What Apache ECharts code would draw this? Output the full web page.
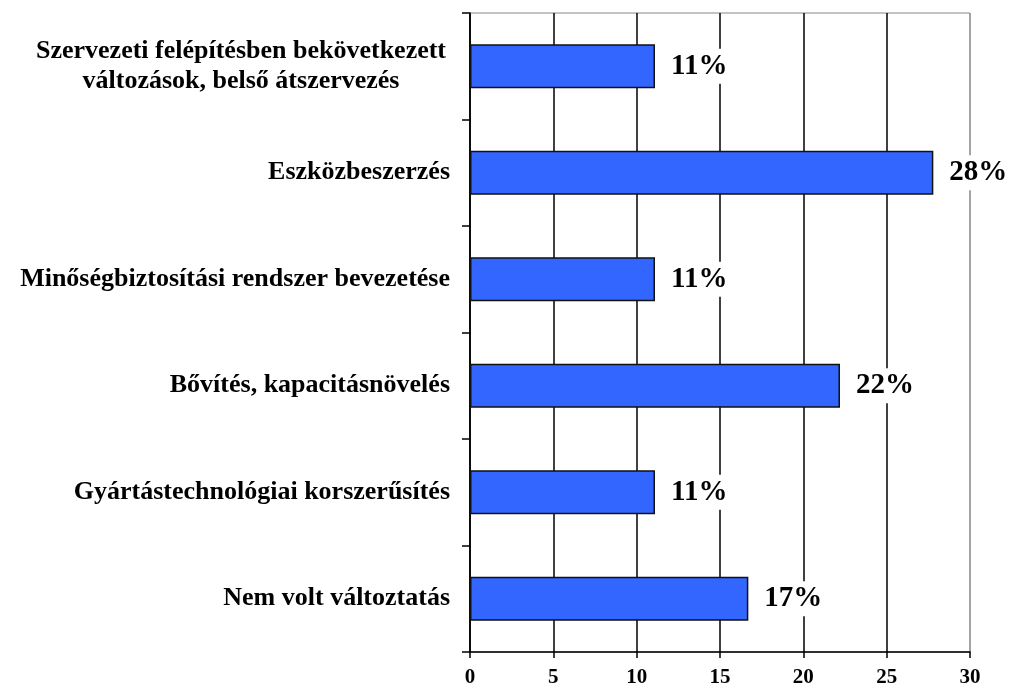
<!DOCTYPE html>
<html>
<head>
<meta charset="utf-8">
<script src="https://cdn.jsdelivr.net/npm/echarts@6/dist/echarts.min.js"></script>
<style>
  html, body { margin: 0; padding: 0; background: #fff; }
  #main { width: 1013px; height: 688px; }
</style>
</head>
<body>
<div id="main"></div>
<script>
// categories top to bottom
var categories = [
  'Szervezeti felépítésben bekövetkezett\nváltozások, belső átszervezés',
  'Eszközbeszerzés',
  'Minőségbiztosítási rendszer bevezetése',
  'Bővítés, kapacitásnövelés',
  'Gyártástechnológiai korszerűsítés',
  'Nem volt változtatás'
];
var values = [11.1, 27.8, 11.1, 22.2, 11.1, 16.7];
var xTicks = [0, 5, 10, 15, 20, 25, 30];

var serif = '"Liberation Serif", "Times New Roman", serif';

var chartDom = document.getElementById('main');
var myChart = echarts.init(chartDom);

var option = {
  animation: false,
  grid: {
    left: 470, right: 43, top: 13, bottom: 36,
    show: true, borderColor: '#888', borderWidth: 1
  },
  xAxis: {
    type: 'value',
    min: xTicks[0],
    max: xTicks[xTicks.length - 1],
    interval: 5,
    axisLine: { show: true, lineStyle: { color: '#000', width: 1.5 } },
    axisTick: { show: true, length: 6, lineStyle: { color: '#000', width: 1.5 } },
    axisLabel: {
      color: '#000', fontFamily: serif, fontWeight: 'bold', fontSize: 21, margin: 15
    },
    splitLine: {
      show: true,
      lineStyle: { color: ['#000', '#000', '#000', '#000', '#000', '#000', '#999'], width: 1.5 }
    }
  },
  yAxis: {
    type: 'category',
    inverse: true,
    data: categories,
    axisLine: { show: true, lineStyle: { color: '#000', width: 1.5 } },
    axisTick: { show: true, length: 8, lineStyle: { color: '#000', width: 1.5 } },
    axisLabel: {
      color: '#000', fontFamily: serif, fontWeight: 'bold', fontSize: 26, margin: 20,
      lineHeight: 30,
      formatter: function (v) {
        if (v.indexOf('\n') < 0) return v;
        return v.split('\n').map(function (l) { return '{c|' + l + '}'; }).join('\n');
      },
      rich: {
        c: {
          width: 418, align: 'center', color: '#000', fontFamily: serif,
          fontWeight: 'bold', fontSize: 26, lineHeight: 30
        }
      }
    }
  },
  series: [{
    type: 'bar',
    data: values,
    barWidth: 44,
    itemStyle: { color: '#3366ff', borderColor: '#111', borderWidth: 1.5 },
    label: {
      show: true,
      position: 'right',
      distance: 13,
      color: '#000',
      fontFamily: serif,
      fontWeight: 'bold',
      fontSize: 29,
      backgroundColor: '#fff',
      padding: [3, 3],
      formatter: function (p) { return Math.round(p.value) + '%'; }
    }
  }]
};

if (chartDom && myChart) {
  myChart.setOption(option);
} else {
  console.error('Failed to initialize the chart');
}
</script>
</body>
</html>
